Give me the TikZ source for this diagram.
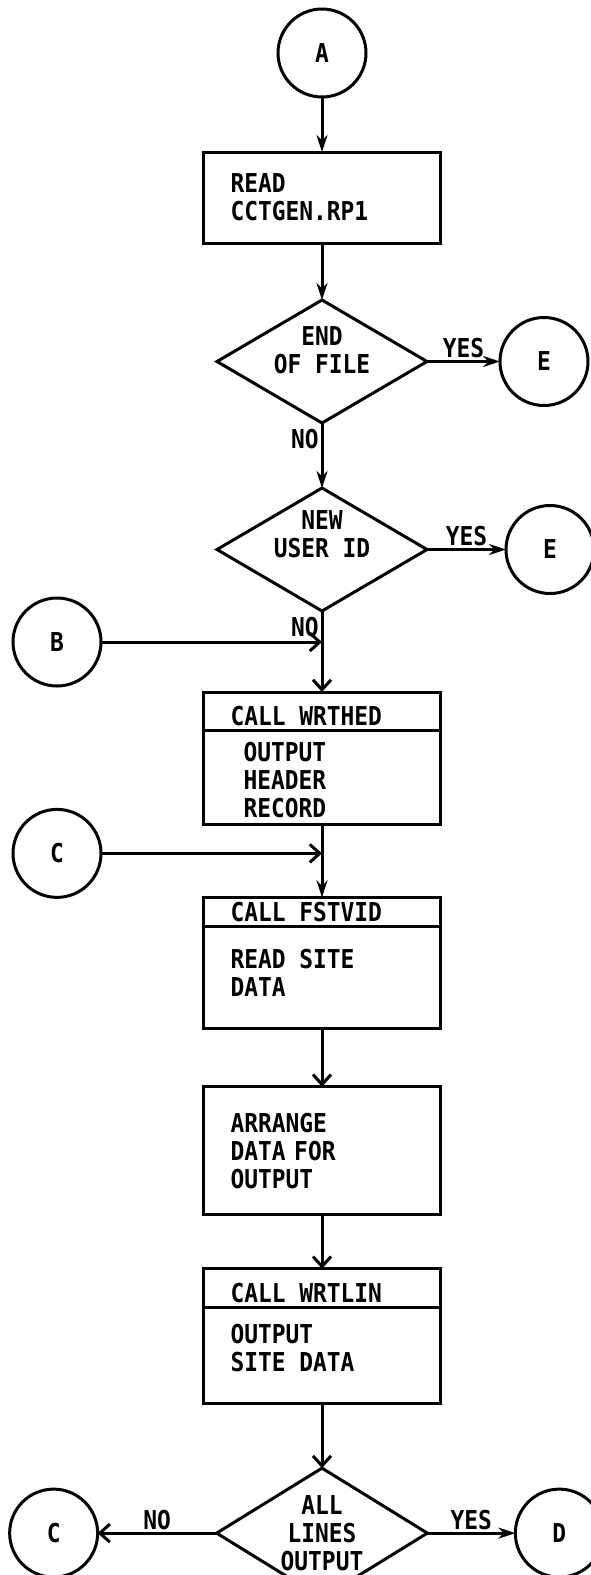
\documentclass[tikz,border=0pt]{standalone}
\usepackage{fontspec}
\newfontfamily\flowfont{DejaVu Sans Mono}[FakeStretch=0.88]
\usetikzlibrary{shapes.geometric, shapes.multipart, arrows.meta, positioning}
\newcommand{\boxbody}[3][27pt]{\parbox[t][#2][t]{183pt}{\raggedright\rule{0pt}{#1}#3}}
\newcommand{\liftup}[2]{\raisebox{#1}[\height][\depth]{\begin{tabular}{@{}c@{}}#2\end{tabular}}}

\begin{document}
\begin{tikzpicture}[
  x=1pt, y=1pt,
  font=\flowfont\bfseries\fontsize{26}{28}\selectfont,
  every node/.style={outer sep=0pt},
  conn/.style={circle, draw=black, line width=3pt, minimum size=88pt, inner sep=0pt},
  box/.style={rectangle, draw=black, line width=3pt, minimum width=237pt,
              inner xsep=27pt, text width=183pt, align=left},
  callbox/.style={rectangle split, rectangle split parts=2, rectangle split part align={left},
                  draw=black, line width=3pt, minimum width=237pt, inner xsep=27pt, inner ysep=3pt},
  decision/.style={diamond, aspect=1.7, draw=black, line width=3pt, minimum width=210pt,
                   minimum height=123pt, inner sep=0pt, align=center},
  arrow/.style={-{Stealth[length=17pt, width=11pt]}, line width=3pt},
  varrow/.style={-{Straight Barb[length=10pt, width=18pt]}, line width=3pt}
]
\useasboundingbox (0,0) rectangle (591,-1575);

\node[conn] (a) at (322,-53) {A};
\node[box, minimum height=91pt, below=55pt of a] (read) {READ\\CCTGEN.RP1};
\node[decision, below=57pt of read] (eof) {\liftup{8pt}{END\\OF FILE}};
\node[conn, right=73pt of eof] (e1) {E};
\node[decision, below=65pt of eof] (newid) {\liftup{12pt}{NEW\\USER ID}};
\node[conn, right=79pt of newid] (e2) {E};
\node[callbox, below=81pt of newid] (wrthed)
  {\rule{0pt}{29pt}CALL WRTHED\nodepart{two}\boxbody{85pt}{\leftskip=13pt OUTPUT\\HEADER\\RECORD}};
\coordinate[above=50pt of wrthed.north] (j1);
\node[conn, left=221pt of j1] (b) {B};
\node[callbox, below=73pt of wrthed] (fstvid)
  {\rule{0pt}{20pt}CALL FSTVID\nodepart{two}\boxbody[37pt]{93pt}{READ SITE\\DATA}};
\coordinate[above=44pt of fstvid.north] (j2);
\node[conn, left=221pt of j2] (c1) {C};
\node[box, minimum height=128pt, below=58pt of fstvid] (arrange) {ARRANGE\\DATA FOR\\OUTPUT};
\node[callbox, below=54pt of arrange] (wrtlin)
  {\rule{0pt}{29pt}CALL WRTLIN\nodepart{two}\boxbody[32pt]{87pt}{OUTPUT\\SITE DATA}};
\node[decision, minimum height=130pt, below=65pt of wrtlin] (all) {ALL\\LINES\\OUTPUT};
\node[conn, left=119pt of all] (c2) {C};
\node[conn, right=88pt of all] (d) {D};

\draw[arrow] (a) -- (read);
\draw[arrow] (read) -- (eof);
\draw[arrow] (eof) -- node[above] {YES} (e1);
\draw[arrow] (eof) -- node[left, pos=0.25] {NO} (newid);
\draw[arrow] (newid) -- node[above] {YES} (e2);
\draw[varrow] (newid) -- node[left, pos=0.2] {NO} (wrthed);
\draw[varrow] (b) -- (j1);
\draw[arrow] (wrthed) -- (fstvid);
\draw[varrow] (c1) -- (j2);
\draw[varrow] (fstvid) -- (arrange);
\draw[varrow] (arrange) -- (wrtlin);
\draw[varrow] (wrtlin) -- (all);
\draw[varrow] (all) -- node[above] {NO} (c2);
\draw[arrow] (all) -- node[above] {YES} (d);
\end{tikzpicture}
\end{document}
